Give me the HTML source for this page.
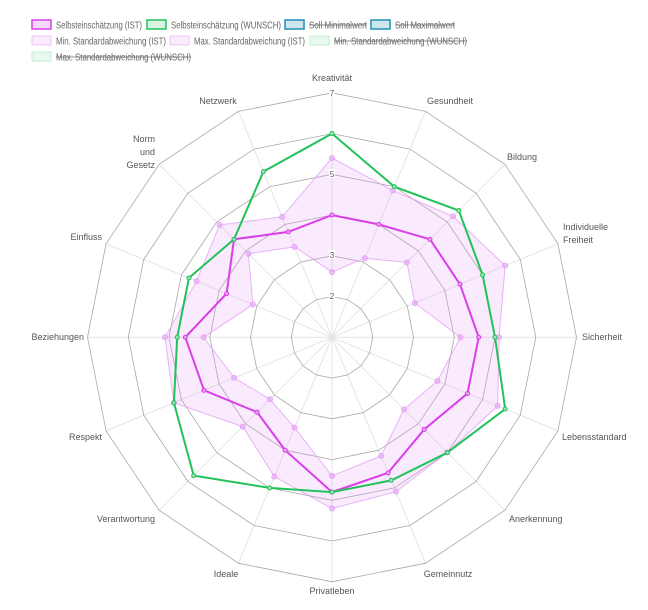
<!DOCTYPE html>
<html><head><meta charset="utf-8"><style>
body{margin:0;background:#fff;width:648px;height:610px;overflow:hidden;font-family:"Liberation Sans",sans-serif}
svg{position:absolute;left:0;top:0}
</style></head><body>
<svg id="s" width="648" height="610" xmlns="http://www.w3.org/2000/svg" font-family="Liberation Sans, sans-serif"></svg>
<script>
const s=document.getElementById('s');
const cx=332,cy=337.3,U=40.75;
let h='';
function pt(i,v){const a=(-90+22.5*i)*Math.PI/180,r=(v-1)*U;return [cx+r*Math.cos(a),cy+r*Math.sin(a)];}
function poly(vals){return vals.map((v,i)=>pt(i,v).map(n=>n.toFixed(1)).join(',')).join(' ');}
for(let i=0;i<16;i++){const p=pt(i,7);h+=`<line x1="${cx}" y1="${cy}" x2="${p[0]}" y2="${p[1]}" stroke="#e4e4e4" stroke-width="1"/>`;}
for(let k=2;k<=7;k++){h+=`<polygon points="${poly(Array(16).fill(k))}" fill="none" stroke="#a8a8a8" stroke-width="0.8"/>`;}
const ist=[4,4,4.4,4.4,4.6,4.6,4.2,4.6,4.8,4,3.6,4.4,4.6,3.8,4.4,3.8];
const wun=[6,5,5.4,5,5,5.6,5,4.8,4.8,5,5.8,5.2,4.8,4.8,4.4,5.4];
const mn=[2.6,3.1,3.6,3.2,4.15,3.8,3.5,4.15,4.4,3.4,3.15,3.6,4.15,3.1,3.9,3.4];
const mx=[5.4,4.9,5.2,5.6,5.1,5.4,5.0,5.1,5.2,4.7,4.1,5.2,5.1,4.6,4.9,4.2];
h+=`<path d="M${poly(mx).replace(/ /g,' L')} Z M${poly(mn).replace(/ /g,' L')} Z" fill="rgba(230,150,245,0.2)" fill-rule="evenodd" stroke="none"/>`;
h+=`<polygon points="${poly(mx)}" fill="none" stroke="rgba(225,150,245,0.7)" stroke-width="1"/>`;
h+=`<polygon points="${poly(mn)}" fill="none" stroke="rgba(225,150,245,0.7)" stroke-width="1"/>`;
[mx,mn].forEach(d=>d.forEach((v,i)=>{const p=pt(i,v);h+=`<circle cx="${p[0]}" cy="${p[1]}" r="2.5" fill="rgba(230,170,245,0.6)" stroke="rgba(225,150,245,0.8)" stroke-width="1"/>`;}));
h+=`<polygon points="${poly(ist)}" fill="none" stroke="#d93ee8" stroke-width="2"/>`;
h+=`<polygon points="${poly(wun)}" fill="none" stroke="#22c25a" stroke-width="2"/>`;
ist.forEach((v,i)=>{const p=pt(i,v);h+=`<circle cx="${p[0]}" cy="${p[1]}" r="2" fill="#e6a0f0" stroke="#d93ee8"/>`;});
wun.forEach((v,i)=>{const p=pt(i,v);h+=`<circle cx="${p[0]}" cy="${p[1]}" r="2" fill="#a0e0b8" stroke="#22c25a"/>`;});
[[2,296],[3,255],[5,174],[7,93]].forEach(([t,y])=>{h+=`<rect x="${cx-3}" y="${y-5}" width="6" height="9" fill="#fff"/><text x="${cx}" y="${y+3}" font-size="8" fill="#555" text-anchor="middle">${t}</text>`;});
const L=[["Kreativität",332,81,"middle"],["Gesundheit",450,104,"middle"],["Bildung",522,160,"middle"],
["Individuelle",563,230,"start"],["Freiheit",563,243,"start"],["Sicherheit",582,340,"start"],["Lebensstandard",562,440,"start"],
["Anerkennung",509,522,"start"],["Gemeinnutz",448,577,"middle"],["Privatleben",332,594,"middle"],["Ideale",226,577,"middle"],
["Verantwortung",155,522,"end"],["Respekt",102,440,"end"],["Beziehungen",84,340,"end"],["Einfluss",102,240,"end"],
["Norm",155,142,"end"],["und",155,155,"end"],["Gesetz",155,168,"end"],["Netzwerk",218,104,"middle"]];
L.forEach(([t,x,y,a])=>{h+=`<text x="${x}" y="${y}" font-size="9" fill="#555" text-anchor="${a}">${t}</text>`;});
const lg=[[32,20,86,"Selbsteinschätzung (IST)","rgba(230,150,245,0.35)","#d93ee8",0],
[147,20,110,"Selbsteinschätzung (WUNSCH)","rgba(160,225,185,0.4)","#22c25a",0],
[285,20,58,"Soll Minimalwert","rgba(150,200,220,0.45)","#1f8fb5",1],
[371,20,60,"Soll Maximalwert","rgba(150,200,220,0.45)","#1f8fb5",1],
[32,36,110,"Min. Standardabweichung (IST)","rgba(240,200,250,0.35)","rgba(225,150,245,0.5)",0],
[170,36,111,"Max. Standardabweichung (IST)","rgba(240,200,250,0.35)","rgba(225,150,245,0.5)",0],
[310,36,133,"Min. Standardabweichung (WUNSCH)","rgba(200,240,215,0.4)","rgba(160,225,185,0.6)",1],
[32,52,135,"Max. Standardabweichung (WUNSCH)","rgba(200,240,215,0.4)","rgba(160,225,185,0.6)",1]];
lg.forEach(([x,y,w,t,f,st,k])=>{
 const bw=(st[0]=='#'?1.5:1);
 h+=`<rect x="${x}" y="${y}" width="19" height="9" fill="${f}" stroke="${st}" stroke-width="${bw}"/>`;
 h+=`<text x="${x+24}" y="${y+8.5}" font-size="10" fill="#666" textLength="${w}" lengthAdjust="spacingAndGlyphs">${t}</text>`;
 if(k){h+=`<line x1="${x+24}" y1="${y+5}" x2="${x+24+w}" y2="${y+5}" stroke="#666" stroke-width="0.8"/>`;}
});
s.innerHTML=h;
</script>
</body></html>
